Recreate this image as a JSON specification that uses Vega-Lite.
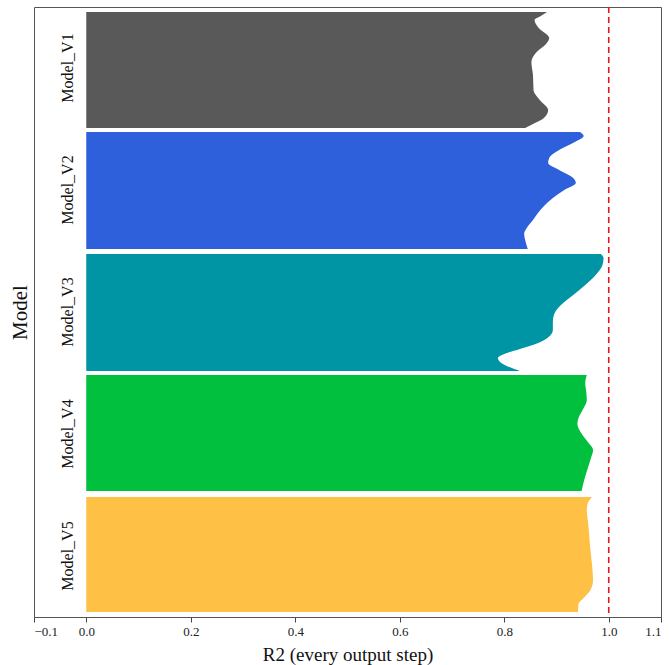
{
  "$schema": "https://vega.github.io/schema/vega-lite/v6.json",
  "width": 627,
  "height": 610,
  "autosize": {"type": "none"},
  "padding": {"left": 34, "top": 7, "right": 8, "bottom": 48},
  "config": {
    "view": {"stroke": "#555555", "strokeWidth": 1},
    "font": "Liberation Serif"
  },
  "datasets": {
    "profiles": [
      {"model": "Model_V1", "pos": 0.041, "r2": 0.882},
      {"model": "Model_V1", "pos": 0.074, "r2": 0.870},
      {"model": "Model_V1", "pos": 0.107, "r2": 0.858},
      {"model": "Model_V1", "pos": 0.172, "r2": 0.866},
      {"model": "Model_V1", "pos": 0.254, "r2": 0.886},
      {"model": "Model_V1", "pos": 0.303, "r2": 0.880},
      {"model": "Model_V1", "pos": 0.369, "r2": 0.862},
      {"model": "Model_V1", "pos": 0.451, "r2": 0.852},
      {"model": "Model_V1", "pos": 0.557, "r2": 0.855},
      {"model": "Model_V1", "pos": 0.680, "r2": 0.856},
      {"model": "Model_V1", "pos": 0.762, "r2": 0.868},
      {"model": "Model_V1", "pos": 0.844, "r2": 0.884},
      {"model": "Model_V1", "pos": 0.910, "r2": 0.876},
      {"model": "Model_V1", "pos": 0.959, "r2": 0.855},
      {"model": "Model_V1", "pos": 0.992, "r2": 0.840},
      {"model": "Model_V2", "pos": 1.025, "r2": 0.945},
      {"model": "Model_V2", "pos": 1.057, "r2": 0.952},
      {"model": "Model_V2", "pos": 1.107, "r2": 0.935},
      {"model": "Model_V2", "pos": 1.172, "r2": 0.905},
      {"model": "Model_V2", "pos": 1.238, "r2": 0.886},
      {"model": "Model_V2", "pos": 1.279, "r2": 0.884},
      {"model": "Model_V2", "pos": 1.336, "r2": 0.905},
      {"model": "Model_V2", "pos": 1.402, "r2": 0.932},
      {"model": "Model_V2", "pos": 1.443, "r2": 0.937},
      {"model": "Model_V2", "pos": 1.500, "r2": 0.915},
      {"model": "Model_V2", "pos": 1.566, "r2": 0.893},
      {"model": "Model_V2", "pos": 1.623, "r2": 0.878},
      {"model": "Model_V2", "pos": 1.680, "r2": 0.866},
      {"model": "Model_V2", "pos": 1.746, "r2": 0.855},
      {"model": "Model_V2", "pos": 1.811, "r2": 0.843},
      {"model": "Model_V2", "pos": 1.861, "r2": 0.838},
      {"model": "Model_V2", "pos": 1.910, "r2": 0.840},
      {"model": "Model_V2", "pos": 1.984, "r2": 0.845},
      {"model": "Model_V3", "pos": 2.025, "r2": 0.985},
      {"model": "Model_V3", "pos": 2.057, "r2": 0.990},
      {"model": "Model_V3", "pos": 2.115, "r2": 0.988},
      {"model": "Model_V3", "pos": 2.197, "r2": 0.975},
      {"model": "Model_V3", "pos": 2.279, "r2": 0.955},
      {"model": "Model_V3", "pos": 2.361, "r2": 0.932},
      {"model": "Model_V3", "pos": 2.418, "r2": 0.915},
      {"model": "Model_V3", "pos": 2.467, "r2": 0.903},
      {"model": "Model_V3", "pos": 2.525, "r2": 0.895},
      {"model": "Model_V3", "pos": 2.582, "r2": 0.893},
      {"model": "Model_V3", "pos": 2.648, "r2": 0.893},
      {"model": "Model_V3", "pos": 2.705, "r2": 0.885},
      {"model": "Model_V3", "pos": 2.754, "r2": 0.865},
      {"model": "Model_V3", "pos": 2.803, "r2": 0.830},
      {"model": "Model_V3", "pos": 2.844, "r2": 0.800},
      {"model": "Model_V3", "pos": 2.877, "r2": 0.788},
      {"model": "Model_V3", "pos": 2.910, "r2": 0.792},
      {"model": "Model_V3", "pos": 2.943, "r2": 0.805},
      {"model": "Model_V3", "pos": 2.984, "r2": 0.830},
      {"model": "Model_V4", "pos": 3.016, "r2": 0.958},
      {"model": "Model_V4", "pos": 3.082, "r2": 0.955},
      {"model": "Model_V4", "pos": 3.156, "r2": 0.957},
      {"model": "Model_V4", "pos": 3.221, "r2": 0.958},
      {"model": "Model_V4", "pos": 3.303, "r2": 0.950},
      {"model": "Model_V4", "pos": 3.369, "r2": 0.942},
      {"model": "Model_V4", "pos": 3.418, "r2": 0.940},
      {"model": "Model_V4", "pos": 3.484, "r2": 0.946},
      {"model": "Model_V4", "pos": 3.566, "r2": 0.960},
      {"model": "Model_V4", "pos": 3.631, "r2": 0.970},
      {"model": "Model_V4", "pos": 3.697, "r2": 0.966},
      {"model": "Model_V4", "pos": 3.779, "r2": 0.960},
      {"model": "Model_V4", "pos": 3.877, "r2": 0.953},
      {"model": "Model_V4", "pos": 3.967, "r2": 0.948},
      {"model": "Model_V5", "pos": 4.016, "r2": 0.968},
      {"model": "Model_V5", "pos": 4.066, "r2": 0.960},
      {"model": "Model_V5", "pos": 4.123, "r2": 0.958},
      {"model": "Model_V5", "pos": 4.246, "r2": 0.961},
      {"model": "Model_V5", "pos": 4.410, "r2": 0.964},
      {"model": "Model_V5", "pos": 4.574, "r2": 0.968},
      {"model": "Model_V5", "pos": 4.697, "r2": 0.970},
      {"model": "Model_V5", "pos": 4.779, "r2": 0.965},
      {"model": "Model_V5", "pos": 4.844, "r2": 0.952},
      {"model": "Model_V5", "pos": 4.893, "r2": 0.942},
      {"model": "Model_V5", "pos": 4.959, "r2": 0.941}
    ],
    "labels": [
      {"model": "Model_V1", "pos": 0.5},
      {"model": "Model_V2", "pos": 1.5},
      {"model": "Model_V3", "pos": 2.5},
      {"model": "Model_V4", "pos": 3.5},
      {"model": "Model_V5", "pos": 4.5}
    ]
  },
  "layer": [
    {
      "data": {"name": "profiles"},
      "mark": {"type": "area", "orient": "horizontal", "interpolate": "monotone"},
      "encoding": {
        "x": {
          "field": "r2",
          "type": "quantitative",
          "scale": {"domain": [-0.1, 1.1], "nice": false, "zero": false},
          "axis": {
            "values": [-0.1, 0, 0.2, 0.4, 0.6, 0.8, 1.0, 1.1],
            "format": ".1f",
            "grid": false,
            "title": "R2 (every output step)",
            "titleFontSize": 19,
            "titleFontWeight": "normal",
            "titleColor": "#111111",
            "titlePadding": 7,
            "labelFontSize": 13,
            "labelColor": "#222222",
            "labelPadding": 3,
            "tickSize": 5,
            "tickColor": "#444444",
            "domainColor": "#555555"
          }
        },
        "x2": {"datum": 0},
        "y": {
          "field": "pos",
          "type": "quantitative",
          "scale": {"domain": [0, 5], "reverse": true, "nice": false, "zero": false},
          "axis": {
            "title": "Model",
            "titleFontSize": 21,
            "titleFontWeight": "normal",
            "titleColor": "#111111",
            "titlePadding": 4,
            "labels": false,
            "ticks": false,
            "domain": false,
            "grid": false
          }
        },
        "color": {
          "field": "model",
          "type": "nominal",
          "scale": {
            "domain": ["Model_V1", "Model_V2", "Model_V3", "Model_V4", "Model_V5"],
            "range": ["#595959", "#2e60dc", "#0095a5", "#00c03e", "#ffc145"]
          },
          "legend": null
        }
      }
    },
    {
      "data": {"values": [{}]},
      "mark": {"type": "rule", "color": "#e8141c", "strokeDash": [6, 4], "strokeWidth": 1.6},
      "encoding": {"x": {"datum": 1.0}}
    },
    {
      "data": {"name": "labels"},
      "mark": {"type": "text", "angle": 270, "fontSize": 16, "color": "#111111", "align": "center", "baseline": "middle"},
      "encoding": {
        "x": {"datum": -0.035},
        "y": {"field": "pos", "type": "quantitative"},
        "text": {"field": "model"}
      }
    }
  ]
}
